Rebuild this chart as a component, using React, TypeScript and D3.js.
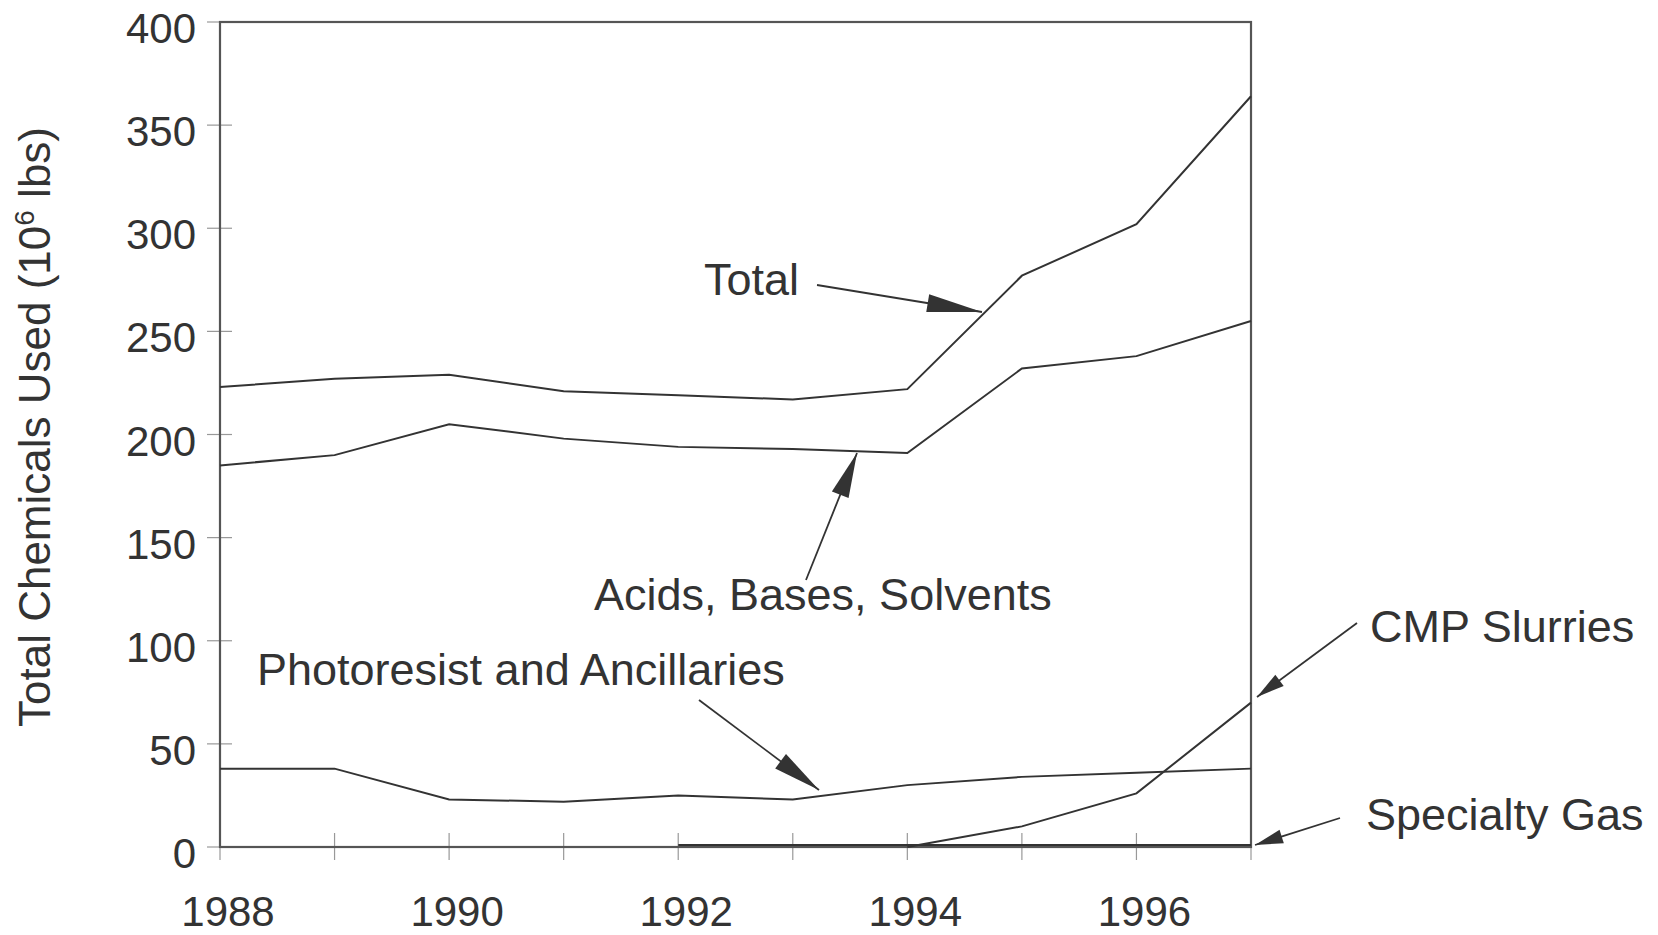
import React from "react";
import * as d3 from "d3";

const years = [1988, 1989, 1990, 1991, 1992, 1993, 1994, 1995, 1996, 1997];
const total = [223, 227, 229, 221, 219, 217, 222, 277, 302, 364];
const acids = [185, 190, 205, 198, 194, 193, 191, 232, 238, 255];
const photoresist = [38, 38, 23, 22, 25, 23, 30, 34, 36, 38];
const cmp: (number | null)[] = [null, null, null, null, null, null, 0, 10, 26, 70];
const specialtyGas: (number | null)[] = [null, null, null, null, 1, 1, 1, 1, 1, 1];
const yTicks = [0, 50, 100, 150, 200, 250, 300, 350, 400];
const xLabelYears = [1988, 1990, 1992, 1994, 1996];

const W = 1658, H = 935;
const L = 220, R = 1251, T = 22, B = 847;
const FONT = "'Liberation Sans', Arial, Helvetica, sans-serif";
const INK = "#333";

type Ann = { text: string; tx: number; ty: number; x1: number; y1: number; x2: number; y2: number; len: number; hw: number };
const annotations: Ann[] = [
  { text: "Total", tx: 704, ty: 295, x1: 817, y1: 285, x2: 982, y2: 312, len: 55, hw: 9 },
  { text: "Acids, Bases, Solvents", tx: 594, ty: 610, x1: 806, y1: 580, x2: 857, y2: 453, len: 45, hw: 9 },
  { text: "Photoresist and Ancillaries", tx: 257, ty: 685, x1: 699, y1: 700, x2: 819, y2: 790, len: 48, hw: 9 },
  { text: "CMP Slurries", tx: 1370, ty: 642, x1: 1357, y1: 623, x2: 1257, y2: 697, len: 28, hw: 7 },
  { text: "Specialty Gas", tx: 1366, ty: 830, x1: 1340, y1: 818, x2: 1255, y2: 845, len: 28, hw: 7 },
];

export default function App() {
  const x = d3.scaleLinear().domain([1988, 1997]).range([L, R]);
  const y = d3.scaleLinear().domain([0, 400]).range([B, T]);
  const line = d3
    .line<number | null>()
    .defined((d) => d !== null)
    .x((_, i) => x(years[i]))
    .y((d) => y(d as number));

  const series = [total, acids, photoresist, cmp, specialtyGas];

  const head = (a: Ann) => {
    const dx = a.x2 - a.x1, dy = a.y2 - a.y1;
    const n = Math.hypot(dx, dy);
    const ux = dx / n, uy = dy / n;
    const bx = a.x2 - ux * a.len, by = a.y2 - uy * a.len;
    const px = -uy * a.hw, py = ux * a.hw;
    return `${a.x2},${a.y2} ${bx + px},${by + py} ${bx - px},${by - py}`;
  };

  return (
    <svg width={W} height={H} style={{ position: "absolute", left: 0, top: 0, background: "#fff" }} fontFamily={FONT}>
      <rect x={0} y={0} width={W} height={H} fill="#fff" />
      {/* y ticks */}
      {yTicks.map((t) => (
        <g key={t}>
          <line x1={L - 13} x2={L + 12} y1={y(t)} y2={y(t)} stroke="#999" strokeWidth={1.2} />
          <text x={196} y={y(t) + 21} textAnchor="end" fontSize={42} fill={INK}>
            {t}
          </text>
        </g>
      ))}
      {/* x ticks */}
      {years.map((yr) => (
        <line key={yr} x1={x(yr)} x2={x(yr)} y1={B - 14} y2={B + 13} stroke="#999" strokeWidth={1.2} />
      ))}
      {xLabelYears.map((yr) => (
        <text key={yr} x={x(yr) + 8} y={926} textAnchor="middle" fontSize={42} fill={INK}>
          {yr}
        </text>
      ))}
      {/* frame */}
      <rect x={L} y={T} width={R - L} height={B - T} fill="none" stroke="#555" strokeWidth={2.2} />
      {/* series */}
      {series.map((s, i) => (
        <path key={i} d={line(s) || ""} fill="none" stroke={INK} strokeWidth={2} strokeLinejoin="miter" />
      ))}
      {/* annotations */}
      {annotations.map((a) => (
        <g key={a.text}>
          <text x={a.tx} y={a.ty} fontSize={45} fill={INK}>
            {a.text}
          </text>
          <line x1={a.x1} y1={a.y1} x2={a.x2} y2={a.y2} stroke={INK} strokeWidth={1.8} />
          <polygon points={head(a)} fill={INK} />
        </g>
      ))}
      {/* y title */}
      <text transform="translate(50,427) rotate(-90)" textAnchor="middle" fontSize={44} fill={INK}>
        Total Chemicals Used (10
        <tspan fontSize={28} dy={-16}>6</tspan>
        <tspan dy={16}> lbs)</tspan>
      </text>
    </svg>
  );
}
